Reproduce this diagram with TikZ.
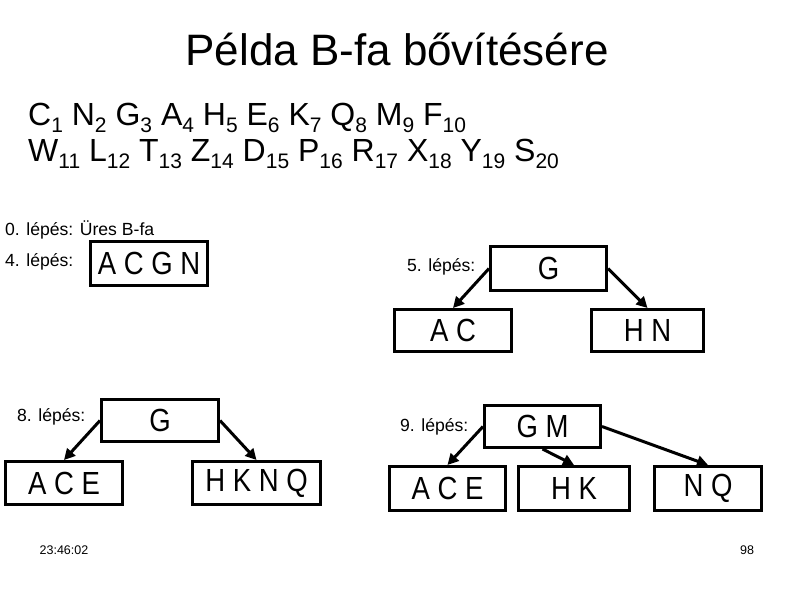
\documentclass[tikz,border=0pt]{standalone}
\usepackage{fontspec}
\setmainfont{Liberation Sans}
\usetikzlibrary{arrows.meta}
\newcommand\sbs[1]{\raisebox{-7pt}{\fontsize{21}{21}\selectfont #1}}
\newcommand\narrowtxt[1]{\scalebox{0.86}[1]{#1}}
\begin{document}
\begin{tikzpicture}[x=1pt,y=-1pt,
  keybox/.style={draw,line width=3pt,inner sep=0pt,font=\fontsize{32}{36}\selectfont},
  steplabel/.style={anchor=west,inner sep=0pt,font=\fontsize{17.6}{20}\selectfont},
  conn/.style={line width=3pt,-{Triangle[length=11pt,width=11pt]}},
  foot/.style={inner sep=0pt,font=\fontsize{12.5}{14}\selectfont}]
\useasboundingbox (0,0) rectangle (794,595);
% title
\node[anchor=base,inner sep=0pt,font=\fontsize{44}{50}\selectfont] (title) at (397,65) {Példa B-fa bővítésére};
\node[anchor=base west,inner sep=0pt,font=\fontsize{32}{36}\selectfont] (seq1) at (28,125)
  {C\sbs{1} N\sbs{2} G\sbs{3} A\sbs{4} H\sbs{5} E\sbs{6} K\sbs{7} Q\sbs{8} M\sbs{9} F\sbs{10}};
\node[anchor=base west,inner sep=0pt,font=\fontsize{32}{36}\selectfont] (seq2) at (28,161)
  {W\sbs{11} L\sbs{12} T\sbs{13} Z\sbs{14} D\sbs{15} P\sbs{16} R\sbs{17} X\sbs{18} Y\sbs{19} S\sbs{20}};
% step labels
\node[steplabel] (l0) at (5,230) {0. lépés: Üres B-fa};
\node[steplabel] (l4) at (5,262) {4. lépés:};
\node[steplabel] (l5) at (407,267) {5. lépés:};
\node[steplabel] (l8) at (17,417) {8. lépés:};
\node[steplabel] (l9) at (400,427) {9. lépés:};
% step 4
\node[keybox,minimum width=117pt,minimum height=44pt] (b4) at (149,263.5) {\narrowtxt{A C G N}};
% step 5
\node[keybox,minimum width=116pt,minimum height=44pt] (g5) at (548.5,268.5) {\narrowtxt{G}};
\node[keybox,minimum width=117pt,minimum height=42pt] (ac5) at (453,330.5) {\narrowtxt{A C}};
\node[keybox,minimum width=112pt,minimum height=42pt] (hn5) at (647.5,330.5) {\narrowtxt{H N}};
\draw[conn] (g5.west) -- (ac5.north);
\draw[conn] (g5.east) -- (hn5.north);
% step 8
\node[keybox,minimum width=117pt,minimum height=42pt] (g8) at (160,420.5) {\narrowtxt{G}};
\node[keybox,minimum width=117pt,minimum height=43pt] (ace8) at (64,483) {\narrowtxt{A C E}};
\node[keybox,minimum width=128pt,minimum height=43pt] (hknq8) at (256.5,483) {\narrowtxt{H K N Q}};
\draw[conn] (g8.west) -- (ace8.north);
\draw[conn] (g8.east) -- (hknq8.north);
% step 9
\node[keybox,minimum width=116pt,minimum height=42pt] (gm9) at (542.5,426.5) {\narrowtxt{G M}};
\node[keybox,minimum width=116pt,minimum height=44pt] (ace9) at (447.5,488.5) {\narrowtxt{A C E}};
\node[keybox,minimum width=111pt,minimum height=44pt] (hk9) at (574,488.5) {\narrowtxt{H K}};
\node[keybox,minimum width=107pt,minimum height=44pt] (nq9) at (708,488.5) {\narrowtxt{N Q}};
\draw[conn] (gm9.west) -- (ace9.north);
\draw[conn] (gm9.south) -- (hk9.north);
\draw[conn] (gm9.east) -- (nq9.north);
% footer
\node[foot] (time) at (64,550) {23:46:02};
\node[foot] (page) at (747,550) {98};
\end{tikzpicture}
\end{document}
